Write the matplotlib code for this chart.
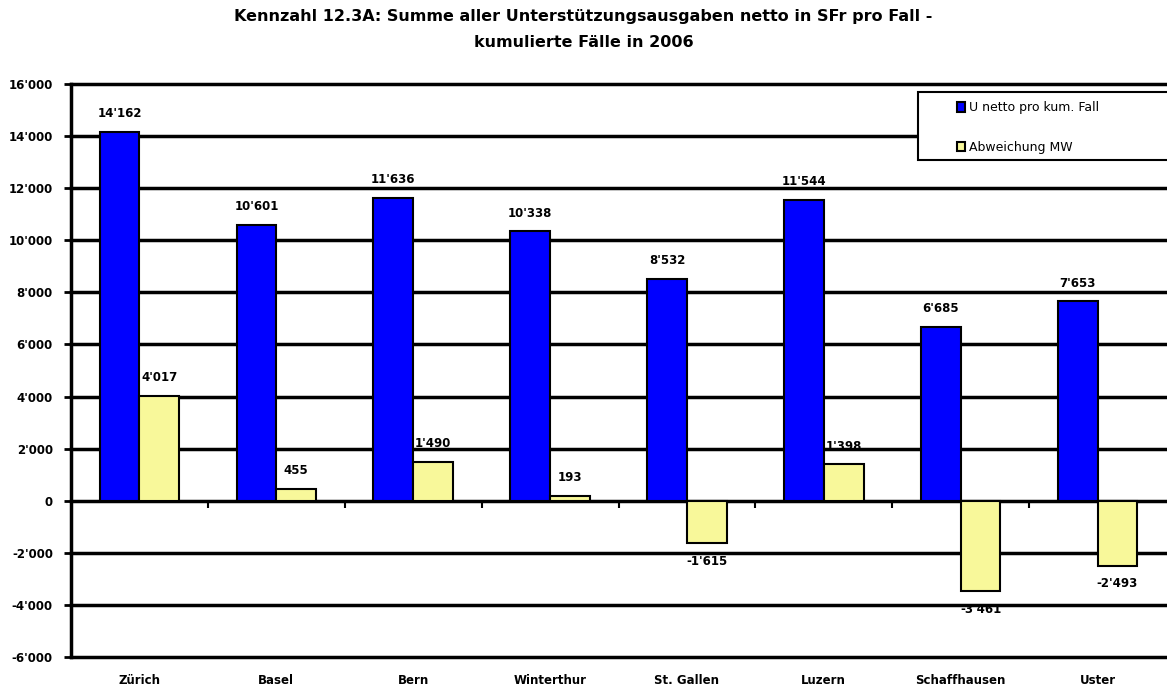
import matplotlib
matplotlib.use("Agg")
import matplotlib.pyplot as plt
import numpy as np
from matplotlib.ticker import FuncFormatter
from matplotlib.patches import Rectangle

categories = ["Zürich", "Basel", "Bern", "Winterthur", "St. Gallen", "Luzern", "Schaffhausen", "Uster"]
netto = [14162, 10601, 11636, 10338, 8532, 11544, 6685, 7653]
abweichung = [4017, 455, 1490, 193, -1615, 1398, -3461, -2493]
series_names = ["U netto pro kum. Fall", "Abweichung MW"]
title = "Kennzahl 12.3A: Summe aller Unterstützungsausgaben netto in SFr pro Fall -\nkumulierte Fälle in 2006"

plt.rcParams['font.family'] = ['DejaVu Sans']

W, H = 1167, 688
fig = plt.figure(figsize=(W/100, H/100), dpi=100)
ax = fig.add_axes([71/W, (H-657)/H, (1166-71)/W, (657-84)/H])

x = np.arange(len(categories))
bw = 0.29
blue = "#0000FF"
yellow = "#F8F89A"
ax.bar(x - bw/2, netto, bw, color=blue, edgecolor="black", linewidth=1.5, label=series_names[0], zorder=3)
ax.bar(x + bw/2, abweichung, bw, color=yellow, edgecolor="black", linewidth=1.5, label=series_names[1], zorder=3)

def fmt(v):
    s = f"{abs(int(v)):,}".replace(",", "'")
    return ("-" if v < 0 else "") + s

fs = 8.5
for xi, v in zip(x, netto):
    ax.text(xi - bw/2, v + 450, fmt(v), ha="center", va="bottom", fontsize=fs, fontweight="bold", zorder=4)
for xi, v in zip(x, abweichung):
    if v >= 0:
        ax.text(xi + bw/2, v + 450, fmt(v), ha="center", va="bottom", fontsize=fs, fontweight="bold", zorder=4)
    else:
        ax.text(xi + bw/2, v - 450, fmt(v), ha="center", va="top", fontsize=fs, fontweight="bold", zorder=4)

ax.set_ylim(-6000, 16000)
ax.set_xlim(-0.5, len(categories) - 0.5)
ax.set_yticks(np.arange(-6000, 16001, 2000))
ax.yaxis.set_major_formatter(FuncFormatter(lambda v, p: fmt(v)))
ax.grid(axis="y", color="black", linewidth=2.5, zorder=1)
for gl in ax.get_ygridlines():
    gl.set_clip_on(False)
ax.set_axisbelow(True)
for s in ["top", "right", "bottom"]:
    ax.spines[s].set_visible(False)
ax.spines["left"].set_linewidth(2.5)
ax.tick_params(axis="y", length=5, width=2, labelsize=fs, pad=8)
for lab in ax.get_yticklabels():
    lab.set_fontweight("bold")

ax.set_xticks(x)
ax.set_xticklabels(categories, fontsize=fs, fontweight="bold")
ax.tick_params(axis="x", length=0, pad=12)

sec = ax.secondary_xaxis(6000/22000)
sec.set_xticks(np.arange(0.5, len(categories) - 0.5, 1.0))
sec.set_xticklabels([])
sec.tick_params(axis="x", length=5, width=1.5, direction="out")
sec.spines["bottom"].set_visible(False)

# legend frame and entries
axw, axh = 1166 - 71, 657 - 84
def ax_x(px):
    return (px - 71) / axw
def ax_y(py):
    return (657 - py) / axh

frame = Rectangle((ax_x(918), ax_y(160)), ax_x(1175) - ax_x(918), ax_y(92) - ax_y(160),
                  transform=ax.transAxes, facecolor="white", edgecolor="black",
                  linewidth=1.5, zorder=5, clip_on=False)
ax.add_patch(frame)
leg = ax.legend(loc="upper left", bbox_to_anchor=(ax_x(954), ax_y(99)),
                fontsize=9, frameon=False,
                handlelength=0.7, handleheight=0.8, handletextpad=0.3, labelspacing=2.1,
                borderpad=0.2, borderaxespad=0)
leg.set_zorder(6)

fig.text(0.5, 1 - 9/H, title, ha="center", va="top", fontsize=11.5, fontweight="bold", linespacing=1.9)

fig.savefig("out.png", dpi=100)
